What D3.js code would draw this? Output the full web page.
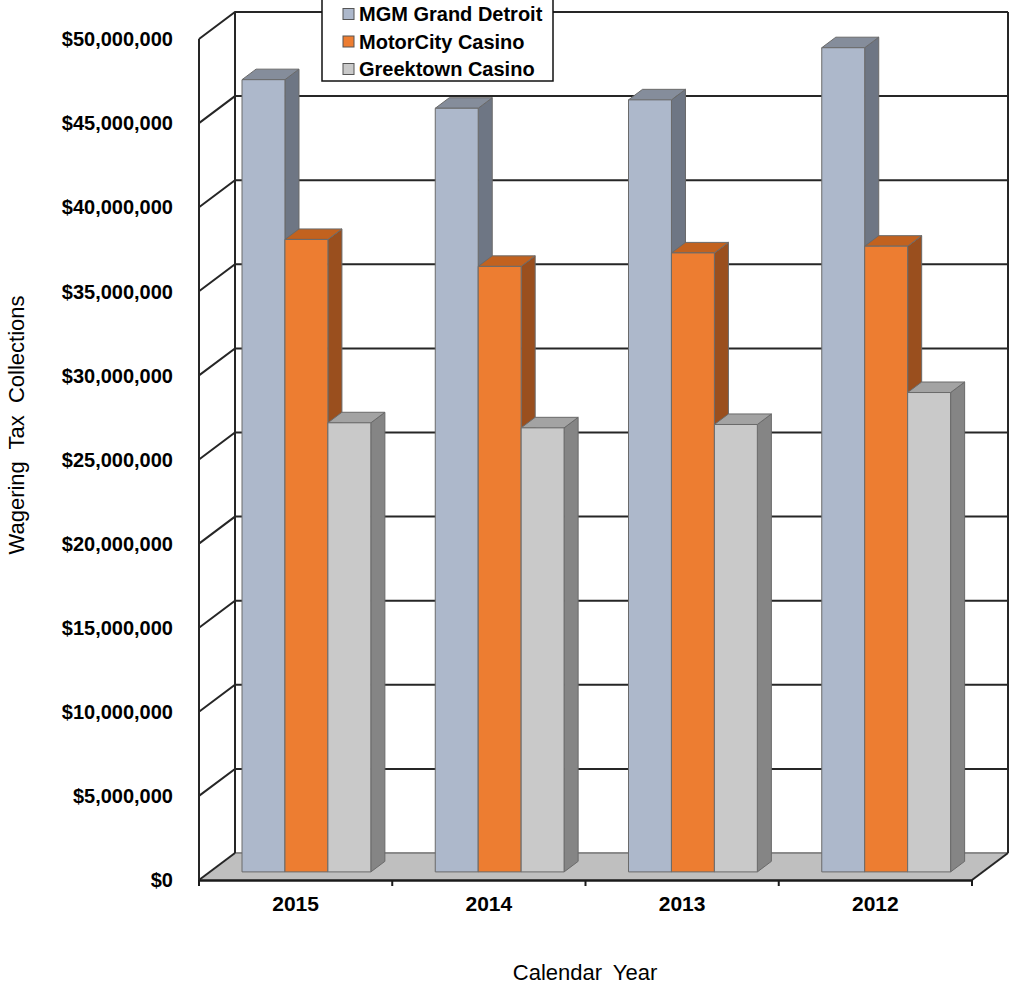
<!DOCTYPE html>
<html>
<head>
<meta charset="utf-8">
<script src="https://cdn.jsdelivr.net/npm/d3@7/dist/d3.min.js"></script>
<style>
  body { margin: 0; background: #fff; }
  svg { display: block; font-family: "Liberation Sans", Arial, sans-serif; }
</style>
</head>
<body>
<div id="chart"></div>
<script>
// data
const years = ["2015", "2014", "2013", "2012"];
const series = ["MGM Grand Detroit", "MotorCity Casino", "Greektown Casino"];
const mgm = [47.1e6, 45.4e6, 45.9e6, 49.0e6];
const motorCity = [37.6e6, 36.0e6, 36.8e6, 37.2e6];
const greektown = [26.7e6, 26.4e6, 26.6e6, 28.5e6];
const yTicks = [0, 5e6, 10e6, 15e6, 20e6, 25e6, 30e6, 35e6, 40e6, 45e6, 50e6];

const values = [mgm, motorCity, greektown];
const colors = [
  { front: "#adb8cb", side: "#6e7684", top: "#858d9b" },
  { front: "#ed7d31", side: "#9a4f1e", top: "#c2621f" },
  { front: "#c9c9c9", side: "#858585", top: "#a3a3a3" }
];

const width = 1016, height = 986;
const depthX = 36, depthY = -27;      // wall depth offset
const barD0 = 0.3, barD1 = 0.69;       // bar depth range, as share of the wall depth

const svg = d3.select("#chart").append("svg")
  .attr("width", width)
  .attr("height", height);

const x0 = d3.scaleBand().domain(years).range([199, 972]).padding(0);
const x1 = d3.scaleBand().domain(series).range([0, x0.bandwidth()]).paddingInner(0).paddingOuter(0.75);
const y = d3.scaleLinear().domain([0, 50e6]).range([880, 39]);

// point on the chart at front-plane x, value v and depth d (0 front, 1 back)
const proj = (px, v, d) => [px + d * depthX, y(v) + d * depthY];

const poly = pts => "M" + pts.map(p => p.join(",")).join("L") + "Z";

// floor
svg.append("path")
  .attr("d", poly([proj(199, 0, 0), proj(199, 0, 1), proj(972, 0, 1), proj(972, 0, 0)]))
  .attr("fill", "#bfbfbf")
  .attr("stroke", "none");

// gridlines: left wall diagonals + back wall horizontals
const grid = svg.append("g").attr("stroke", "#262626").attr("stroke-width", 2).attr("fill", "none");
grid.selectAll("path.grid")
  .data(yTicks)
  .enter().append("path")
  .attr("class", "grid")
  .attr("stroke", d => d === 0 ? "#8a8a8a" : "#262626")
  .attr("d", d => {
    const a = proj(199, d, 0), b = proj(199, d, 1), c = proj(972, d, 1);
    return d === 0 ? "M" + b + "L" + c : "M" + a + "L" + b + "L" + c;
  });

// wall edges
grid.append("path").attr("d", "M" + proj(199, 0, 0) + "L" + proj(199, 50e6, 0));
grid.append("path").attr("d", "M" + proj(199, 0, 1) + "L" + proj(199, 50e6, 1));
grid.append("path").attr("d", "M" + proj(972, 0, 1) + "L" + proj(972, 50e6, 1));
grid.append("path").attr("d", "M" + proj(199, 0, 0) + "L" + proj(199, 0, 1));
grid.append("path").attr("d", "M" + proj(972, 0, 0) + "L" + proj(972, 0, 1));

// bars
const bars = svg.append("g");
years.forEach((yr, i) => {
  series.forEach((s, j) => {
    const v = values[j][i];
    const xl = x0(yr) + x1(s), xr = xl + x1.bandwidth();
    const c = colors[j];
    const g = bars.append("g").attr("stroke", "#6a6a6a").attr("stroke-width", 1).attr("stroke-linejoin", "round");
    g.append("path")
      .attr("fill", c.side)
      .attr("d", poly([proj(xr, 0, barD0), proj(xr, 0, barD1), proj(xr, v, barD1), proj(xr, v, barD0)]));
    g.append("path")
      .attr("fill", c.top)
      .attr("d", poly([proj(xl, v, barD0), proj(xl, v, barD1), proj(xr, v, barD1), proj(xr, v, barD0)]));
    g.append("path")
      .attr("fill", c.front)
      .attr("d", poly([proj(xl, 0, barD0), proj(xl, v, barD0), proj(xr, v, barD0), proj(xr, 0, barD0)]));
  });
});

// front floor edge + category ticks
const axisG = svg.append("g")
  .attr("transform", `translate(0,${y(0)})`)
  .call(d3.axisBottom(x0).tickSize(0).tickPadding(16));
axisG.select(".domain").attr("stroke", "#1a1a1a").attr("stroke-width", 2.5);
axisG.selectAll(".tick text")
  .attr("font-size", 21)
  .attr("font-weight", "bold")
  .attr("fill", "#000")
  .attr("font-family", "Liberation Sans, Arial, sans-serif");
axisG.selectAll(".cat-tick")
  .data([199].concat(years.map(d => x0(d) + x0.bandwidth())))
  .enter().append("line")
  .attr("class", "cat-tick")
  .attr("x1", d => d).attr("x2", d => d)
  .attr("y1", 0).attr("y2", 6)
  .attr("stroke", "#1a1a1a").attr("stroke-width", 2);

// value labels
svg.append("g")
  .selectAll("text")
  .data(yTicks)
  .enter().append("text")
  .attr("x", 173)
  .attr("y", d => y(d))
  .attr("dy", "0.36em")
  .attr("text-anchor", "end")
  .attr("font-size", 20)
  .attr("font-weight", "bold")
  .text(d => "$" + d3.format(",")(d));

// axis titles
svg.append("text")
  .attr("x", 585)
  .attr("y", 980)
  .attr("text-anchor", "middle")
  .attr("font-size", 22)
  .attr("word-spacing", 5)
  .text("Calendar Year");

svg.append("text")
  .attr("transform", "translate(24,425) rotate(-90)")
  .attr("text-anchor", "middle")
  .attr("font-size", 22)
  .attr("word-spacing", 6)
  .text("Wagering Tax Collections");

// legend
const legend = svg.append("g");
legend.append("rect")
  .attr("x", 322).attr("y", -3)
  .attr("width", 231).attr("height", 84)
  .attr("fill", "#fff")
  .attr("stroke", "#111")
  .attr("stroke-width", 1.5);
const item = legend.selectAll("g.item")
  .data(series)
  .enter().append("g")
  .attr("class", "item")
  .attr("transform", (d, i) => `translate(343,${14 + i * 27.5})`);
item.append("rect")
  .attr("x", 0).attr("y", -5.5)
  .attr("width", 11).attr("height", 11)
  .attr("fill", (d, i) => colors[i].front)
  .attr("stroke", "#555");
item.append("text")
  .attr("x", 16)
  .attr("dy", "0.36em")
  .attr("font-size", 20)
  .attr("font-weight", "bold")
  .text(d => d);
</script>
</body>
</html>
